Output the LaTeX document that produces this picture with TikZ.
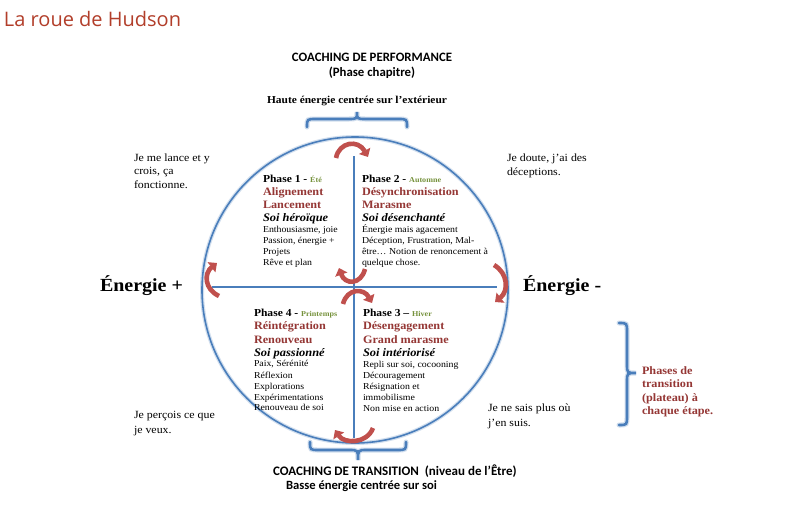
\documentclass[tikz,border=0pt]{standalone}
\usepackage{fontspec}
\setmainfont{Liberation Serif}[FakeStretch=1.08]
\newfontfamily\calib{Carlito}
\newfontfamily\titlefont{Open Sans}
\usetikzlibrary{arrows.meta}
\definecolor{darkred}{RGB}{149,55,53}
\definecolor{titlered}{RGB}{178,62,42}
\definecolor{seasongreen}{RGB}{118,146,60}
\definecolor{wheelblue}{RGB}{74,126,187}
\definecolor{arrowred}{RGB}{192,80,77}
\newcommand\fsz[1]{\fontsize{#1}{#1}\selectfont}
\begin{document}
\begin{tikzpicture}[x=1pt,y=-1pt,
  txt/.style={anchor=base west,inner sep=0pt,outer sep=0pt},
  ctxt/.style={anchor=base,inner sep=0pt,outer sep=0pt},
  phasehead/.style={txt,font=\fsz{10.7}\bfseries},
  phasename/.style={txt,font=\fsz{11.3}\bfseries,text=darkred},
  phaseself/.style={txt,font=\fsz{11.5}\bfseries\itshape},
  phasesmall/.style={txt,font=\fsz{9.1}},
  side/.style={txt,font=\fsz{11}},
  energy/.style={txt,font=\fsz{18.5}\bfseries},
  axis/.style={draw=wheelblue,line width=2.4pt},
  bracestyle/.style={draw=wheelblue,line width=2.6pt,line cap=round},
  braceglow/.style={draw=wheelblue!25,line width=5pt,line cap=round},
  turn/.style={draw=arrowred,line width=4.6pt,-{Triangle[width=12.5pt,length=7pt]}},
]
\useasboundingbox[fill=white] (0,0) rectangle (786,512);

% title
\node[txt,font=\titlefont\fsz{20},text=titlered] (title) at (4,26) {La roue de Hudson};

% wheel
\draw[draw=wheelblue!25,line width=4pt] (355,290) circle[radius=153];
\node[draw=wheelblue,line width=1.6pt,circle,minimum size=306pt,inner sep=0pt] (wheel) at (355,290) {};

% axes
\coordinate (hl) at (212,287);
\coordinate (hr) at (497,287);
\coordinate (vt) at (354,156);
\coordinate (vb) at (354,438);
\draw[axis] (hl) -- (hr);
\draw[axis] (vt) -- (vb);

% turning arrows
\coordinate (ta1) at (336,158); \coordinate (ta2) at (368,157);
\draw[turn] (ta1) .. controls (339,142) and (358,139) .. (ta2);
\coordinate (ra1) at (494,265); \coordinate (ra2) at (495,302);
\draw[turn] (ra1) .. controls (508,273) and (509,291) .. (ra2);
\coordinate (ba1) at (373,428); \coordinate (ba2) at (335,430);
\draw[turn] (ba1) .. controls (367,444) and (344,444) .. (ba2);
\coordinate (la1) at (219,296); \coordinate (la2) at (217,263);
\draw[turn] (la1) .. controls (204,289) and (204,273) .. (la2);
\coordinate (ca1) at (365,269); \coordinate (ca2) at (339,268);
\draw[turn] (ca1) .. controls (361,285) and (345,285) .. (ca2);
\coordinate (cb1) at (343,304); \coordinate (cb2) at (372,303);
\draw[turn] (cb1) .. controls (347,288) and (364,288) .. (cb2);

% braces
\coordinate (tbl) at (307,127); \coordinate (tbr) at (407,127); \coordinate (tbt) at (357,112);
\foreach \s in {braceglow,bracestyle}{
\draw[\s] (tbl) .. controls (307,119) .. (316,119) -- (348,119) .. controls (357,119) .. (tbt)
  .. controls (357,119) .. (366,119) -- (398,119) .. controls (407,119) .. (tbr);
}
\coordinate (bbl) at (310,442); \coordinate (bbr) at (406,442); \coordinate (bbt) at (358,460);
\foreach \s in {braceglow,bracestyle}{
\draw[\s] (bbl) .. controls (310,450) .. (319,450) -- (349,450) .. controls (358,450) .. (bbt)
  .. controls (358,450) .. (367,450) -- (397,450) .. controls (406,450) .. (bbr);
}
\coordinate (rbt) at (619,323); \coordinate (rbb) at (619,425); \coordinate (rbp) at (636,373);
\foreach \s in {braceglow,bracestyle}{
\draw[\s] (rbt) .. controls (627,323) .. (627,332) -- (627,364) .. controls (627,373) .. (rbp)
  .. controls (627,373) .. (627,382) -- (627,416) .. controls (627,425) .. (rbb);
}

% top and bottom captions
\node[ctxt,font=\calib\fsz{12.8}\bfseries] (perf) at (372,61.5) {COACHING DE PERFORMANCE};
\node[ctxt,font=\calib\fsz{12.8}\bfseries] (perf2) at (372,76.5) {(Phase chapitre)};
\node[ctxt,font=\fsz{10.6}\bfseries] (haute) at (357,103) {Haute énergie centrée sur l’extérieur};
\node[txt,font=\calib\fsz{13}\bfseries] (trans) at (273,475.5) {COACHING DE TRANSITION\ \ (niveau de l’Être)};
\node[txt,font=\calib\fsz{12.6}\bfseries] (basse) at (286,489.5) {Basse énergie centrée sur soi};

% side texts
\node[side] (s1a) at (134,161.5) {Je me lance et y};
\node[side] (s1b) at (134,174.5) {crois, ça};
\node[side] (s1c) at (134,188) {fonctionne.};
\node[side] (s2a) at (507,161.5) {Je doute, j’ai des};
\node[side] (s2b) at (507,175) {déceptions.};
\node[side] (s4a) at (134,418.5) {Je perçois ce que};
\node[side] (s4b) at (134,433) {je veux.};
\node[side] (s3a) at (488,411.5) {Je ne sais plus où};
\node[side] (s3b) at (488,426) {j’en suis.};
\node[energy] (eplus) at (100,291.5) {Énergie +};
\node[energy] (emoins) at (523,291.5) {Énergie -};

\node[txt,font=\fsz{11.3}\bfseries,text=darkred] (pt1) at (642,374.5) {Phases de};
\node[txt,font=\fsz{11.3}\bfseries,text=darkred] (pt2) at (642,387.5) {transition};
\node[txt,font=\fsz{11.3}\bfseries,text=darkred] (pt3) at (642,401) {(plateau) à};
\node[txt,font=\fsz{11.3}\bfseries,text=darkred] (pt4) at (642,414) {chaque étape.};

% Phase 1
\node[phasehead] (p1h) at (263,182) {Phase 1 - {\fsz{7.5}\color{seasongreen}Été}};
\node[phasename] (p1a) at (263,195) {Alignement};
\node[phasename] (p1b) at (263,208) {Lancement};
\node[phaseself] (p1c) at (263,221) {Soi héroïque};
\node[phasesmall] (p1d) at (263,232.5) {Enthousiasme, joie};
\node[phasesmall] (p1e) at (263,243) {Passion, énergie +};
\node[phasesmall] (p1f) at (263,254.5) {Projets};
\node[phasesmall] (p1g) at (263,265.5) {Rêve et plan};

% Phase 2
\node[phasehead] (p2h) at (362,182) {Phase 2 - {\fsz{7.5}\color{seasongreen}Automne}};
\node[phasename] (p2a) at (362,195) {Désynchronisation};
\node[phasename] (p2b) at (362,208) {Marasme};
\node[phaseself] (p2c) at (362,221) {Soi désenchanté};
\node[phasesmall] (p2d) at (362,232.5) {Énergie mais agacement};
\node[phasesmall] (p2e) at (362,243) {Déception, Frustration, Mal-};
\node[phasesmall] (p2f) at (362,254.5) {être… Notion de renoncement à};
\node[phasesmall] (p2g) at (362,265.5) {quelque chose.};

% Phase 4
\node[phasehead] (p4h) at (254,316) {Phase 4 - {\fsz{7.5}\color{seasongreen}Printemps}};
\node[phasename] (p4a) at (254,329) {Réintégration};
\node[phasename] (p4b) at (254,343) {Renouveau};
\node[phaseself] (p4c) at (254,356) {Soi passionné};
\node[phasesmall] (p4d) at (254,366.5) {Paix, Sérénité};
\node[phasesmall] (p4e) at (254,378) {Réflexion};
\node[phasesmall] (p4f) at (254,389) {Explorations};
\node[phasesmall] (p4g) at (254,400) {Expérimentations};
\node[phasesmall] (p4i) at (254,410.5) {Renouveau de soi};

% Phase 3
\node[phasehead] (p3h) at (363,316) {Phase 3 – {\fsz{7.5}\color{seasongreen}Hiver}};
\node[phasename] (p3a) at (363,329) {Désengagement};
\node[phasename] (p3b) at (363,343) {Grand marasme};
\node[phaseself] (p3c) at (363,356) {Soi intériorisé};
\node[phasesmall] (p3d) at (363,367) {Repli sur soi, cocooning};
\node[phasesmall] (p3e) at (363,378.5) {Découragement};
\node[phasesmall] (p3f) at (363,389.5) {Résignation et};
\node[phasesmall] (p3g) at (363,400.5) {immobilisme};
\node[phasesmall] (p3i) at (363,411) {Non mise en action};
\end{tikzpicture}
\end{document}
